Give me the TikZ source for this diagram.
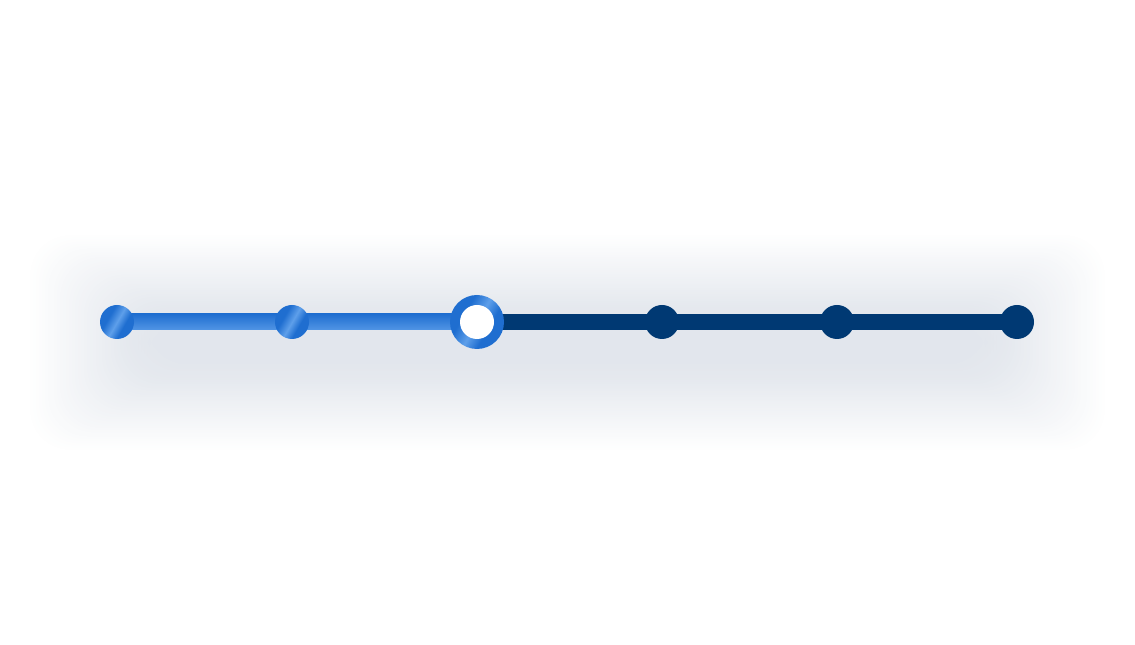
\documentclass[tikz,border=0pt]{standalone}
\usepackage{tikz}
\usetikzlibrary{positioning, backgrounds, calc}

\definecolor{stepblue}{HTML}{1F6ED0}
\definecolor{stephigh}{HTML}{5E9FEA}
\definecolor{stepnavy}{HTML}{003973}
\definecolor{haze}{HTML}{9AA8BE}

% glossy stripe across the blue parts
\pgfdeclarehorizontalshading{gloss}{100bp}{color(0bp)=(stepblue); color(36bp)=(stepblue);
  color(50bp)=(stephigh); color(62bp)=(stepblue); color(100bp)=(stepblue)}

\tikzset{
  donedot/.style={circle, minimum size=34pt, inner sep=0pt, shading=gloss, shading angle=-30},
  nowdot/.style={circle, minimum size=54pt, inner sep=0pt, shading=gloss, shading angle=-30},
  nowhole/.style={circle, minimum size=34pt, inner sep=0pt, fill=white},
  tododot/.style={circle, minimum size=34pt, inner sep=0pt, fill=stepnavy},
  todoline/.style={stepnavy}
}

\begin{document}
\begin{tikzpicture}[x=1pt, y=1pt]
    \useasboundingbox (0,0) rectangle (1135,645);
    % steps
    \node[donedot] (s1) at (117,323) {};
    \node[donedot] (s2) at (292,323) {};
    \node[nowdot]  (s3) at (477,323) {};
    \node[nowhole] (s3in) at (s3) {};
    \node[tododot] (s4) at (662,323) {};
    \node[tododot] (s5) at (837,323) {};
    \node[tododot] (s6) at (1017,323) {};
    \begin{scope}[on background layer]
        % soft haze under the track
        \foreach \i in {0,...,39}
            \fill[haze, opacity=0.009, rounded corners=40pt]
                (30+3*\i, 195+2.2*\i) rectangle (1105-3*\i, 410-2.2*\i);
        % track between the steps
        \foreach \a/\b in {s1/s2, s2/s3}
            \shade[top color=stepblue, bottom color=stephigh!80!stepblue]
                ($(\a.center)+(0,8)$) rectangle ($(\b.center)+(0,-8)$);
        \foreach \a/\b in {s3/s4, s4/s5, s5/s6}
            \fill[todoline] ($(\a.center)+(0,8)$) rectangle ($(\b.center)+(0,-8)$);
    \end{scope}
\end{tikzpicture}
\end{document}
